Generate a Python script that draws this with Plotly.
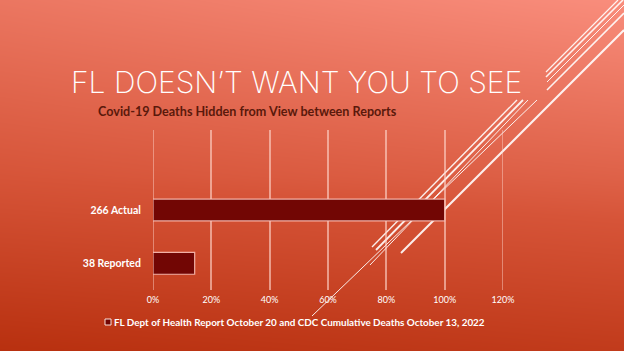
import plotly.graph_objects as go

# ---- data ----
categories = ["266 Actual", "38 Reported"]
deaths = [266, 38]
series_name = "FL Dept of Health Report October 20 and CDC Cumulative Deaths October 13, 2022"
x_ticks = [0, 0.2, 0.4, 0.6, 0.8, 1.0, 1.2]
title_text = "FL DOESN\u2019T WANT YOU TO SEE"
subtitle_text = "Covid-19 Deaths Hidden from View between Reports"

W, H = 624, 351
share = [d / max(deaths) for d in deaths]
ypos = [1, 0]  # Actual above Reported; an empty slot on top
y_range = [-0.5, 2.5]
grid_color = "rgba(255,215,205,0.6)"

fig = go.Figure()

# ---- background gradient (decoration, full-slide axis x/y) ----
fig.add_trace(go.Heatmap(
    x=[0, W], y=[0, H / 2, H],
    z=[[0.0, 0.15], [0.5, 0.62], [0.8, 1.0]],
    colorscale=[[0, "#b8300f"], [0.5, "#d65438"], [1, "#f98d7c"]],
    zmin=0, zmax=1, zsmooth="best", showscale=False, hoverinfo="skip",
    xaxis="x", yaxis="y"))

# decorative diagonal lines (pixel coords, y from top)
deco = [
    ((546, 72), (618, 0), 1.2), ((546, 77), (623, 0), 1.6),
    ((547, 82), (624, 5), 1.0), ((547, 90), (624, 13), 1.6),
    ((401, 253), (624, 30), 2.0),
    ((372, 247), (517, 100), 1.4), ((376, 250), (523, 100), 1.8),
    ((370, 265), (528, 100), 1.0), ((312, 316), (537, 100), 1.0),
]
for (x0, y0), (x1, y1), w in deco:
    fig.add_trace(go.Scatter(
        x=[x0, x1], y=[H - y0, H - y1], mode="lines",
        line=dict(color="rgba(255,255,255,0.9)", width=w),
        hoverinfo="skip", showlegend=False, xaxis="x", yaxis="y"))

# ---- the chart ----
fig.add_trace(go.Bar(
    y=ypos, x=share, orientation="h", name=series_name, width=0.41,
    marker=dict(color="#720604", line=dict(color="rgba(255,200,190,0.85)", width=1.2)),
    xaxis="x2", yaxis="y2", showlegend=False))

# edge gridlines (plotly clips gridlines that sit on the plot edges)
for xv in (x_ticks[0], x_ticks[-1]):
    fig.add_shape(type="line", xref="x2", yref="y2", x0=xv, x1=xv,
                  y0=y_range[0], y1=y_range[1],
                  line=dict(color=grid_color, width=1.5), layer="below")

# legend drawn as marker + text
fig.add_shape(type="rect", xref="paper", yref="paper",
              x0=105 / W, x1=111 / W, y0=(H - 325) / H, y1=(H - 319) / H,
              fillcolor="#720604", line=dict(color="rgba(255,235,230,0.95)", width=1))
fig.add_annotation(xref="paper", yref="paper", x=112 / W, y=(H - 322) / H,
                   xanchor="left", yanchor="middle", showarrow=False,
                   text=series_name,
                   font=dict(family="Lato", size=9.9, color="white", weight="bold"))

fig.add_annotation(xref="paper", yref="paper", x=296 / W, y=(H - 82) / H,
                   xanchor="center", yanchor="middle", showarrow=False,
                   text=title_text,
                   font=dict(family="Inter", size=30, color="white", weight=200))
fig.add_annotation(xref="paper", yref="paper", x=247 / W, y=(H - 111) / H,
                   xanchor="center", yanchor="middle", showarrow=False,
                   text=subtitle_text,
                   font=dict(family="Lato", size=12.6, color="#5a190b", weight="bold"))

fig.update_layout(
    width=W, height=H, margin=dict(l=0, r=0, t=0, b=0, pad=0, autoexpand=False),
    paper_bgcolor="#d65438", plot_bgcolor="rgba(0,0,0,0)",
    showlegend=False,
    xaxis=dict(domain=[0, 1], range=[0, W], visible=False, fixedrange=True, automargin=False),
    yaxis=dict(domain=[0, 1], range=[0, H], visible=False, fixedrange=True, automargin=False),
    xaxis2=dict(domain=[153 / W, 503 / W], range=[0, 1.2], anchor="y2", automargin=False,
                tickvals=x_ticks, tickformat=".0%", showgrid=True,
                gridcolor=grid_color, gridwidth=1.5,
                zeroline=False, showline=False,
                ticks="outside", ticklen=1, tickcolor="rgba(0,0,0,0)",
                tickfont=dict(family="Lato", size=9, color="white")),
    yaxis2=dict(domain=[(H - 290) / H, (H - 130) / H], range=y_range, anchor="x2",
                automargin=False,
                tickvals=ypos, ticktext=categories, showgrid=False, zeroline=False,
                showline=False, ticks="outside", ticklen=9, tickcolor="rgba(0,0,0,0)",
                tickfont=dict(family="Lato", size=10.5, color="white", weight="bold")),
)

fig.write_html("out.html")
